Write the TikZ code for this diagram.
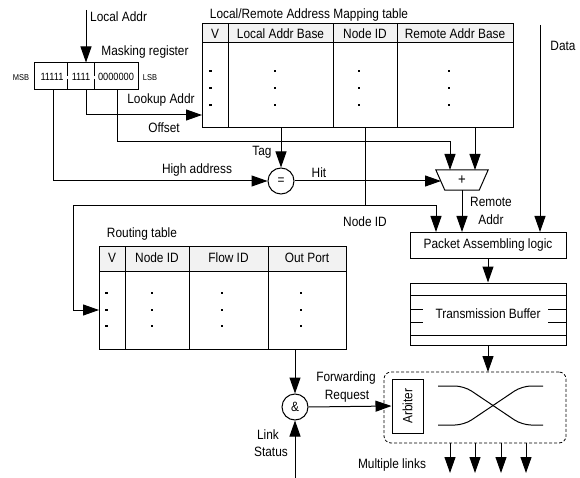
\documentclass[tikz,border=0pt]{standalone}
\usepackage{fontspec}
\setmainfont{Liberation Sans}[FakeStretch=0.88]
\usetikzlibrary{arrows.meta}
\tikzset{
  wire/.style={line width=1pt},
  arr/.style={wire,-{Triangle[length=16pt,width=11pt]}},
  lbl/.style={inner sep=0pt,font=\fontsize{13.5}{15}\selectfont},
  small/.style={inner sep=0pt,font=\fontsize{10.5}{12}\selectfont},
  tiny/.style={inner sep=0pt,font=\fontsize{8.5}{10}\selectfont},
  hdr/.style={fill=black!5},
  dotv/.style={fill=black},
  opcircle/.style={circle,draw,wire,minimum size=26pt,inner sep=0pt,font=\fontsize{13.5}{15}\selectfont},
  boxnode/.style={draw,wire,inner sep=0pt,font=\fontsize{13.5}{15}\selectfont},
}
\begin{document}
\begin{tikzpicture}[x=1pt,y=-1pt]
\useasboundingbox (0,0) rectangle (580,478);

% ---------- masking register ----------
\node[boxnode,minimum width=104pt,minimum height=27pt] (mreg) at (86,76.5) {};
\draw[wire,dash pattern=on 13pt off 3pt] (67,63) -- (67,90);
\draw[wire,dash pattern=on 13pt off 3pt] (94,63) -- (94,90);
\node[small] (m1) at (52,77) {11111};
\node[small] (m2) at (81,77) {1111};
\node[small] (m3) at (116,77) {0000000};
\node[tiny] (msb) at (21,78) {MSB};
\node[tiny] (lsb) at (150,78) {LSB};
\node[lbl] (mregt) at (145,52) {Masking register};

\coordinate (la) at (86,10);
\node[lbl,anchor=west] (lat) at (90,17) {Local Addr};
\draw[arr] (la) -- (mreg.north);

% ---------- address mapping table ----------
\fill[hdr] (202,24) rectangle (513,43);
\draw[wire] (202,24) rectangle (513,128);
\draw[wire] (202,43) -- (513,43);
\foreach \cx in {228,333,397} \draw[wire] (\cx,24) -- (\cx,128);
\node[lbl] (mapt) at (309,15) {Local/Remote Address Mapping table};
\node[lbl] (mh1) at (215,34) {V};
\node[lbl] (mh2) at (280.5,34) {Local Addr Base};
\node[lbl] (mh3) at (365,34) {Node ID};
\node[lbl] (mh4) at (455,34) {Remote Addr Base};
\foreach \ry in {71,88,105} {
  \fill[dotv] (208.5,\ry-1) rectangle (211.5,\ry+1);
  \foreach \cx in {275,359,449} \fill[dotv] (\cx-1,\ry-1) rectangle (\cx+1,\ry+1);
}

% ---------- adder and comparator ----------
\node[opcircle] (eq) at (281,181) {=};
\node[inner sep=0pt,minimum width=52pt,minimum height=20pt,font=\fontsize{15}{15}\selectfont] (add) at (462,180) {+};
\draw[wire] (add.north west) -- (add.north east) -- ([xshift=-9pt]add.south east) -- ([xshift=9pt]add.south west) -- cycle;

% ---------- packet logic and buffer ----------
\node[boxnode,minimum width=156pt,minimum height=26pt] (pkt) at (488,245) {Packet Assembling logic};
\node[boxnode,minimum width=156pt,minimum height=62pt] (buf) at (488,314) {Transmission Buffer};
\draw[wire] (410,295) -- (566,295);
\draw[wire] (410,335) -- (566,335);
\draw[wire] (410,309) -- (423,309) (548,309) -- (566,309);
\draw[wire] (410,322) -- (423,322) (548,322) -- (566,322);

% ---------- switch ----------
\node[draw,line width=0.8pt,dash pattern=on 3pt off 2pt,rounded corners=7pt,minimum width=182pt,minimum height=71pt] (sw) at (475,407.5) {};
\node[boxnode,minimum width=31pt,minimum height=54pt] (arb) at (407.5,406) {};
\node[lbl,rotate=90] (arbt) at (arb.center) {Arbiter};
\draw[wire,rounded corners=9pt] (438,386) -- (464,386) -- (522,425) -- (543,425);
\draw[wire,rounded corners=9pt] (438,425) -- (464,425) -- (522,386) -- (543,386);

% ---------- routing table ----------
\fill[hdr] (99,246) rectangle (346,271);
\draw[wire] (99,246) rectangle (346,349);
\draw[wire] (99,271) -- (346,271);
\foreach \cx in {125,189,268} \draw[wire] (\cx,246) -- (\cx,349);
\node[lbl] (rtt) at (142,234) {Routing table};
\node[lbl] (rh1) at (112,258) {V};
\node[lbl] (rh2) at (157,258) {Node ID};
\node[lbl] (rh3) at (228.5,258) {Flow ID};
\node[lbl] (rh4) at (307,258) {Out Port};
\foreach \ry in {293,310,326} {
  \fill[dotv] (104.5,\ry-1) rectangle (107.5,\ry+1);
  \foreach \cx in {152,222,301} \fill[dotv] (\cx-1,\ry-1) rectangle (\cx+1,\ry+1);
}

\node[opcircle] (and) at (295,407) {\&};

% ---------- connection points ----------
\coordinate (hiout) at (53,90);
\coordinate (lkout) at (86,90);
\coordinate (ofout) at (117,90);
\coordinate (mapin) at (202,115);
\coordinate (tagout) at (281,128);
\coordinate (nidout) at (365,128);
\coordinate (nidjoin) at (365,206);
\coordinate (nidleft) at (73,206);
\coordinate (pktnid) at (436,232);
\coordinate (rtin) at (99,310);
\coordinate (rbout) at (475,128);
\coordinate (addr) at (475,170);
\coordinate (ofturn) at (450,142);
\coordinate (addl) at (450,170);
\coordinate (addin) at (441,181);
\coordinate (pktra) at (462,232);
\coordinate (datatop) at (540,25);
\coordinate (pktdata) at (540,232);
\coordinate (swin) at (488,372);
\coordinate (rtout) at (295,349);
\coordinate (lsbot) at (295,478);

% ---------- connectors ----------
\draw[arr] (hiout) |- (eq.west);
\draw[arr] (lkout) |- (mapin);
\draw[arr] (ofout) |- (ofturn) -- (addl);
\draw[arr] (tagout) -- (eq.north);
\draw[wire] (nidout) -- (nidjoin);
\draw[arr] (nidjoin) -| (pktnid);
\draw[arr] (nidjoin) -- (nidleft) |- (rtin);
\draw[arr] (rbout) -- (addr);
\draw[arr] (eq.east) -- (addin);
\draw[arr] (add.south) -- (pktra);
\draw[arr] (datatop) -- (pktdata);
\draw[arr] (pkt.south) -- (buf.north);
\draw[arr] (buf.south) -- (swin);
\draw[arr] (rtout) -- (and.north);
\draw[arr] (lsbot) -- (and.south);
\draw[arr] (and.east) -- (arb.west);
\foreach \lx [count=\i] in {450,475,501,526} {
  \coordinate (lk\i a) at (\lx,443);
  \coordinate (lk\i b) at (\lx,473);
  \draw[arr] (lk\i a) -- (lk\i b);
}

% ---------- labels ----------
\node[lbl] (lkt) at (161,100) {Lookup Addr};
\node[lbl] (oft) at (164,128) {Offset};
\node[lbl] (datat) at (563,46) {Data};
\node[lbl] (tagt) at (262,152) {Tag};
\node[lbl] (hat) at (197,170) {High address};
\node[lbl] (hitt) at (319,173) {Hit};
\node[lbl] (nidt) at (365,222) {Node ID};
\node[lbl] (rat1) at (491,202) {Remote};
\node[lbl] (rat2) at (491,220) {Addr};
\node[lbl] (fwt1) at (346,378) {Forwarding};
\node[lbl] (fwt2) at (347,396) {Request};
\node[lbl] (lst1) at (268,435) {Link};
\node[lbl] (lst2) at (271,452) {Status};
\node[lbl] (mlt) at (392,465) {Multiple links};
\end{tikzpicture}
\end{document}
